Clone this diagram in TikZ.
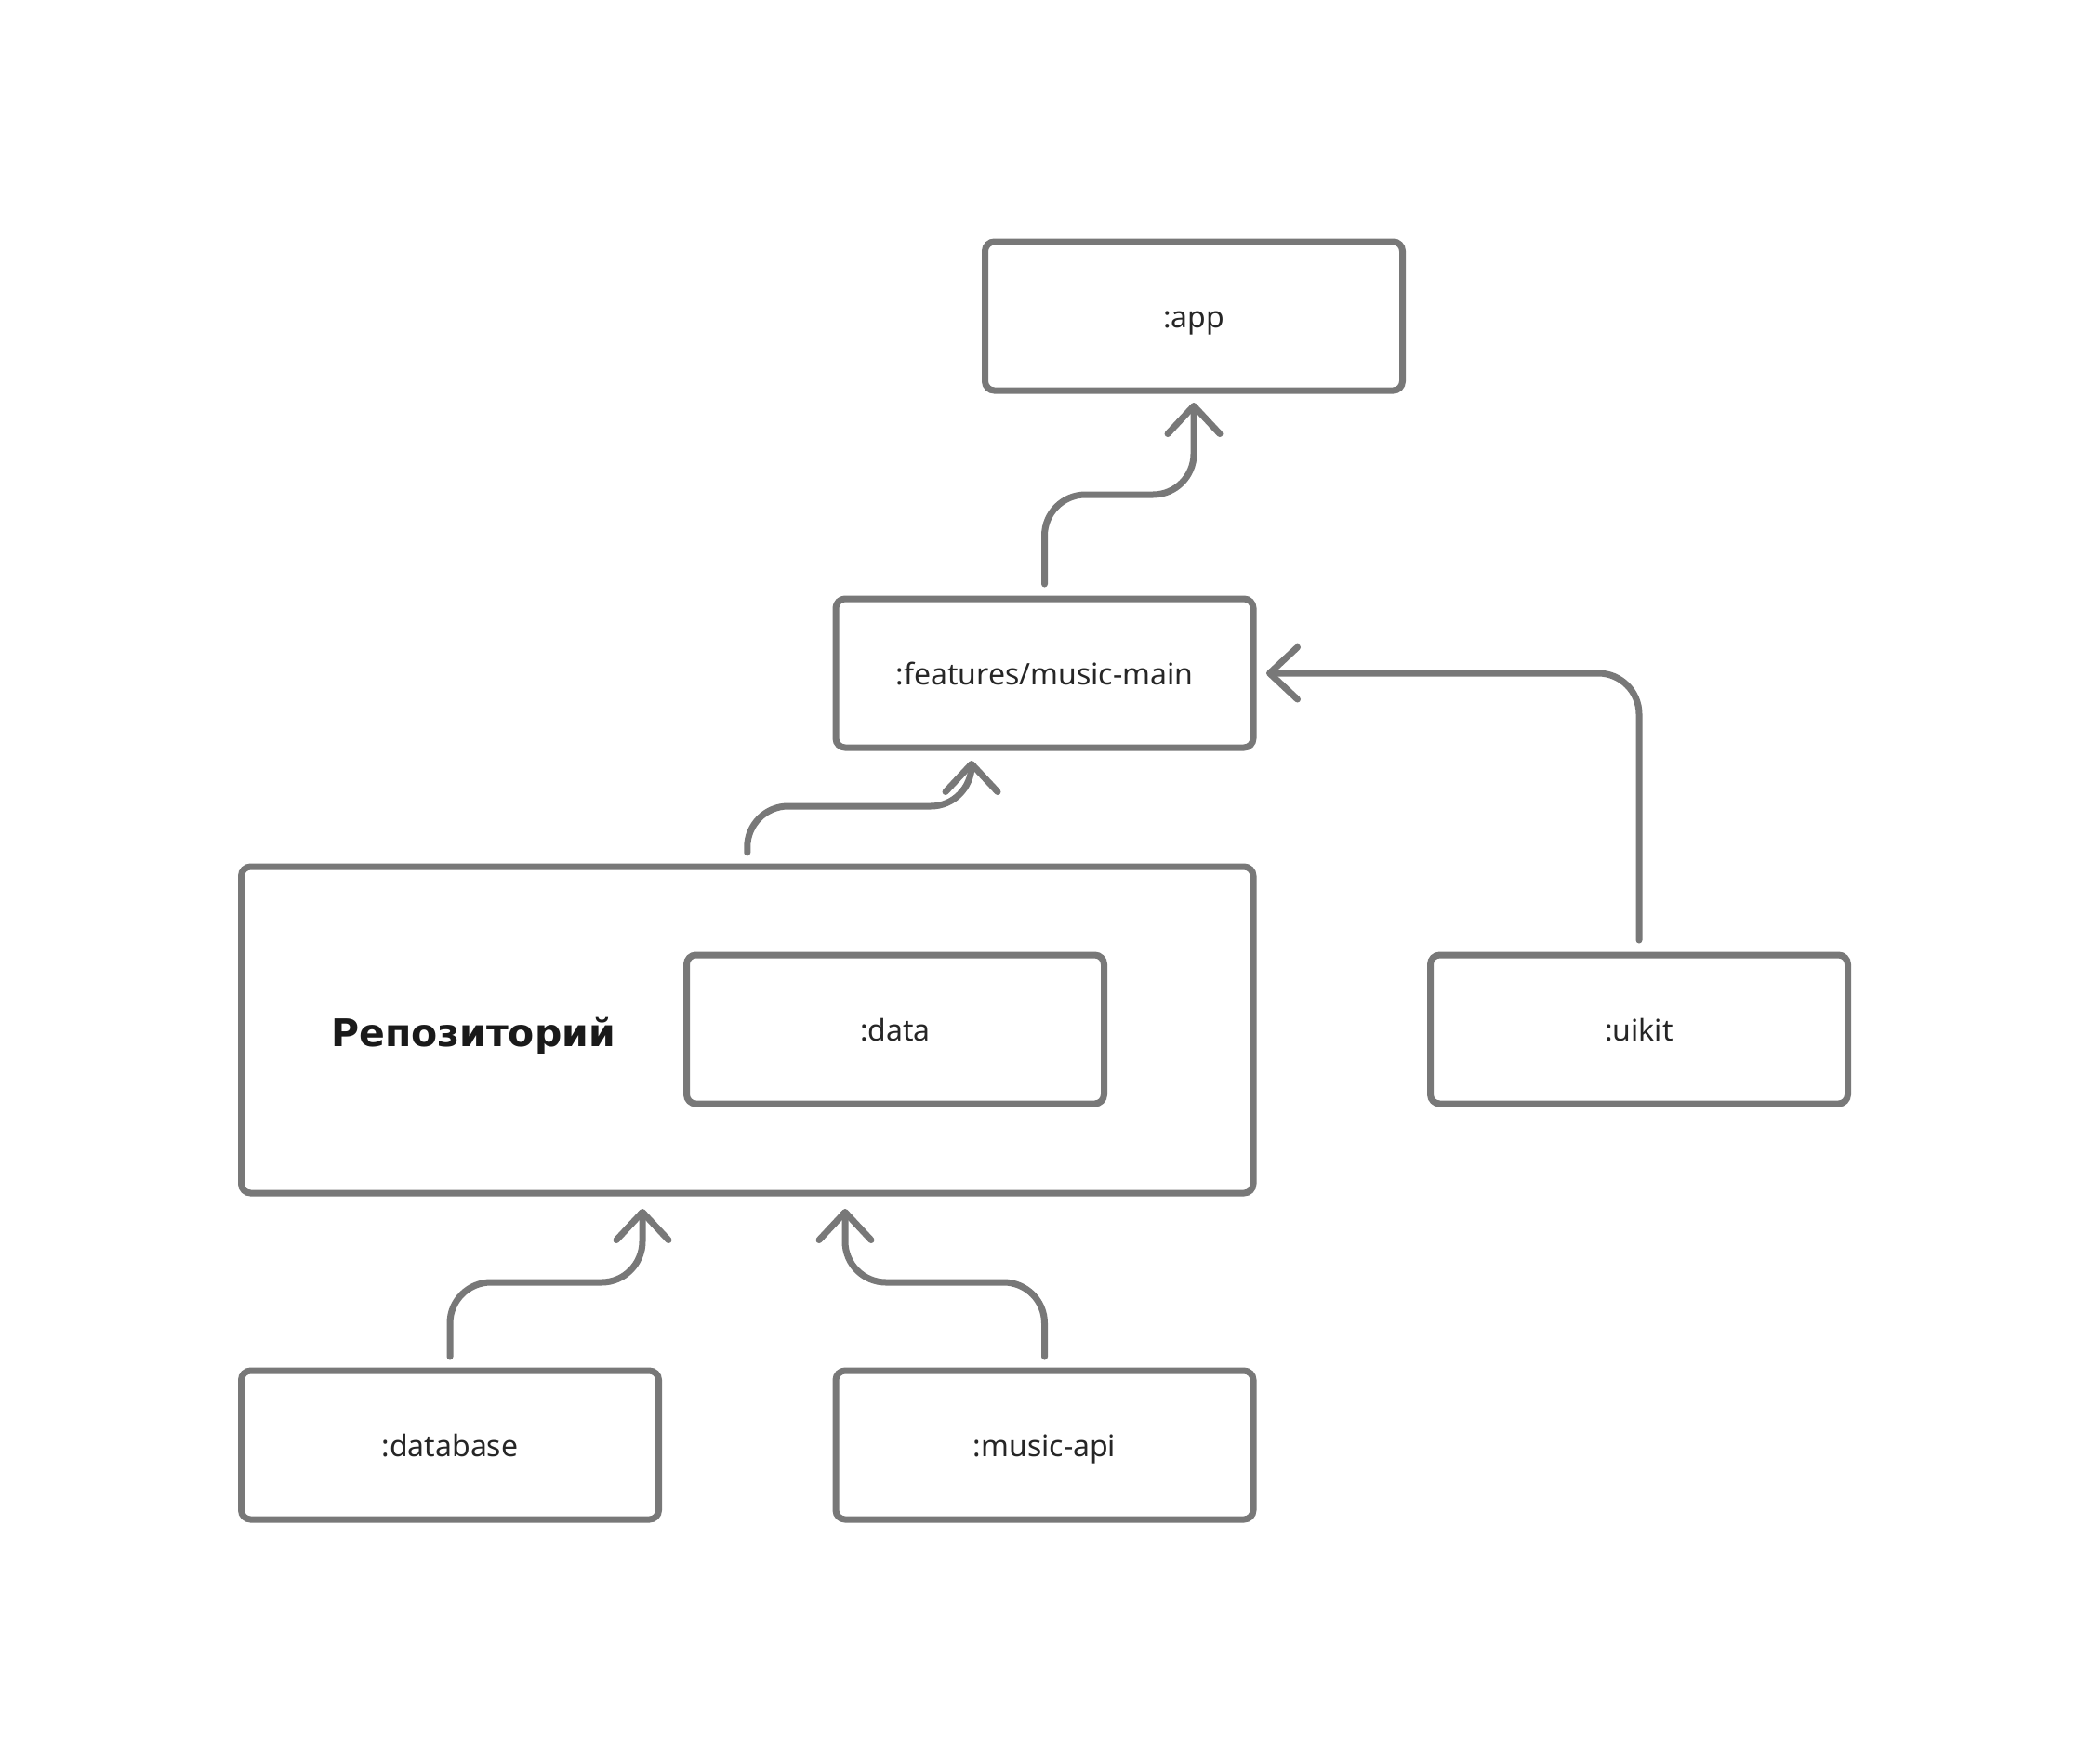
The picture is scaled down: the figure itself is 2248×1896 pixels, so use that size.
\documentclass[tikz,border=0pt]{standalone}
\usepackage{fontspec}
\setmainfont{Noto Sans}
\newfontfamily\titlefont{DejaVu Sans}
\usetikzlibrary{arrows.meta,calc}
\definecolor{edge}{HTML}{787878}
\definecolor{ink}{HTML}{262626}
\definecolor{inkdark}{HTML}{1A1A1A}
\begin{document}
\begin{tikzpicture}[x=1pt,y=-1pt,
  box/.style={draw=edge, line width=7pt, rounded corners=10pt, outer sep=0pt,
    minimum width=449pt, minimum height=160pt, inner sep=0pt, text=ink,
    font=\fontsize{32}{38}\selectfont, text height=30pt, text depth=6pt},
  conn/.style={draw=edge, line width=7pt, line cap=round, line join=round, rounded corners=44pt,
    -{Straight Barb[length=30pt,width=56pt,line cap=round,line join=round]}},
  title/.style={text=inkdark, font=\titlefont\bfseries\fontsize{41}{48}\selectfont, inner sep=0pt}]
\fill[white] (0,0) rectangle (2248,1896);
\path[use as bounding box] (0,0) rectangle (2248,1896);

\node[box] (app) at (1284,340) {:app};
\node[box] (feat) at (1123.5,724) {:features/music-main};
\node[box, minimum width=1088.5pt, minimum height=351pt] (repo) at (803.75,1107.5) {};
\node[title, anchor=base] (repolabel) at (509,1125) {Репозиторий};
\node[box] (data) at (963,1107) {:data};
\node[box] (uikit) at (1763,1107) {:uikit};
\node[box] (db) at (484,1554) {:database};
\node[box] (api) at (1123.5,1554) {:music-api};

\coordinate (lv1) at (0,532);
\coordinate (lv2) at (0,867);
\coordinate (lv3) at (0,1379);
\coordinate (t2) at ([xshift=146pt,yshift=-14pt]feat.south west);
\coordinate (t4) at ([xshift=431.5pt,yshift=-17pt]repo.south west);
\coordinate (t5) at ([xshift=649.5pt,yshift=-17pt]repo.south west);

\draw[conn] ([yshift=16pt]feat.north) -- (feat.north |- lv1) -- (app.south |- lv1) -- ([yshift=-13pt]app.south);
\draw[conn] ([yshift=15pt]repo.north) -- (repo.north |- lv2) -- (t2 |- lv2) -- (t2);
\draw[conn] ([yshift=16pt]uikit.north) |- ([xshift=14pt]feat.east);
\draw[conn] ([yshift=15pt]db.north) -- (db.north |- lv3) -- (t4 |- lv3) -- (t4);
\draw[conn] ([yshift=15pt]api.north) -- (api.north |- lv3) -- (t5 |- lv3) -- (t5);
\end{tikzpicture}
\end{document}
